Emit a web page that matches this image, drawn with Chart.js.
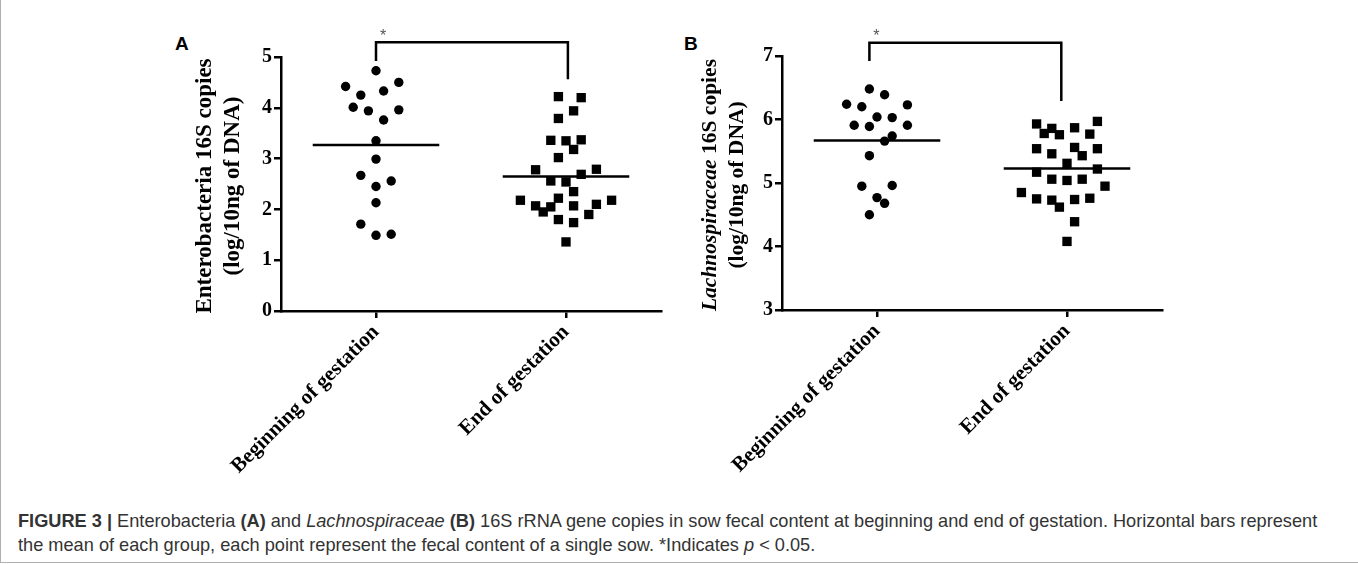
<!DOCTYPE html>
<html lang="en">
<head>
<meta charset="UTF-8">
<title>Figure 3</title>
<style>
  html, body { margin: 0; padding: 0; background: #fff; }
  #page { position: relative; width: 1358px; height: 564px; overflow: hidden; }
  #frame { position: absolute; left: 0; top: 0; width: 1357px; height: 562px;
           border-left: 1px solid #b0b0b0; border-bottom: 1px solid #b0b0b0; }
  canvas { position: absolute; }
  .letter { position: absolute; font: bold 19px "Liberation Sans", Arial, sans-serif; color: #000; }
  #caption { position: absolute; left: 18px; top: 509px; white-space: nowrap;
             font-family: "Liberation Sans", Arial, sans-serif; font-size: 15px; line-height: 24px; color: #333; }
</style>
</head>
<body>
<div id="page">
  <div id="frame"></div>
  <div class="letter" style="left:175px; top:33px;">A</div>
  <div class="letter" style="left:684px; top:33px;">B</div>
  <canvas id="chartA" width="520" height="500" style="left:160px; top:0px;"></canvas>
  <canvas id="chartB" width="530" height="500" style="left:660px; top:-1px;"></canvas>
  <div id="caption"><span id="line1"><b>FIGURE 3 |</b> Enterobacteria <b>(A)</b> and <i>Lachnospiraceae</i> <b>(B)</b> 16S rRNA gene copies in sow fecal content at beginning and end of gestation. Horizontal bars represent</span><br>the mean of each group, each point represent the fecal content of a single sow. *Indicates <i>p</i> &lt; 0.05.</div>
</div>

<script src="https://cdn.jsdelivr.net/npm/chart.js@4.4.0/dist/chart.umd.min.js"></script>
<script>
// groups on the x axis
const groups = ['Beginning of gestation', 'End of gestation'];

// A - Enterobacteria 16S copies (log/10ng of DNA)
const entBegin     = [4.73, 4.50, 4.42, 4.33, 4.25, 4.01, 3.96, 3.94, 3.76, 3.35, 2.99, 2.67, 2.56, 2.45, 2.13, 1.71, 1.51, 1.49];
const entBeginCols = [0, 3, -4, 1, -2, -3, 3, -1, 1, 0, 0, -2, 2, 0, 0, -2, 2, 0];
const entEnd       = [4.22, 4.20, 3.94, 3.79, 3.36, 3.35, 3.37, 3.18, 3.02, 2.78, 2.79, 2.69, 2.56, 2.54, 2.35,
                      2.18, 2.18, 2.22, 2.07, 2.05, 1.95, 2.07, 2.10, 1.90, 1.80, 1.74, 1.36];
const entEndCols   = [-1, 2, 1, -1, -2, 0, 2, 1, -1, -4, 4, 2, -2, 0, 1, -6, 6, -1, -4, -2, -3, 1, 4, 3, -1, 1, 0];
const entMeans     = [3.27, 2.65];
const entTicks     = [0, 1, 2, 3, 4, 5];

// B - Lachnospiraceae 16S copies (log/10ng of DNA)
const lachBegin     = [6.48, 6.39, 6.24, 6.20, 6.23, 6.04, 6.03, 5.91, 5.89, 5.91, 5.74, 5.66, 5.43, 4.95, 4.96, 4.77, 4.68, 4.50];
const lachBeginCols = [-1, 1, -4, -2, 4, 0, 2, -3, -1, 4, 2, 1, -1, -2, 2, 0, 1, -1];
const lachEnd       = [5.93, 5.86, 5.78, 5.76, 5.87, 5.97, 5.77, 5.54, 5.46, 5.56, 5.43, 5.54, 5.31, 5.22,
                       5.17, 5.06, 5.04, 5.06, 4.95, 4.85, 4.75, 4.73, 4.62, 4.74, 4.76, 4.39, 4.08];
const lachEndCols   = [-4, -2, -3, -1, 1, 4, 3, -4, -2, 1, 2, 4, 0, 4, -4, -2, 0, 2, 5, -6, -4, -2, -1, 1, 3, 1, 0];
const lachMeans     = [5.67, 5.23];
const lachTicks     = [3, 4, 5, 6, 7];

const STEP = 0.04;      // spacing of the scatter columns, in group units
const HALF_BAR = 0.333; // half length of the mean bar

function cloud(vals, cols, g) {
  return vals.map((v, i) => ({ x: g + cols[i] * STEP, y: v }));
}

const SERIF = '"Liberation Serif", "Times New Roman", serif';

// rotated y title, drawn from chart area, supports italic pieces
function yTitle(lines, off1, off2, size) {
  return {
    id: 'yTitle',
    afterDraw(chart) {
      const ctx = chart.ctx, a = chart.chartArea;
      const cy = (a.top + a.bottom) / 2 + 2;
      [off1, off2].forEach((off, li) => {
        const parts = lines[li];
        ctx.save();
        ctx.translate(a.left - off, cy);
        ctx.rotate(-Math.PI / 2);
        ctx.fillStyle = '#000';
        ctx.textBaseline = 'middle';
        ctx.textAlign = 'left';
        const fonts = parts.map(p => (p.italic ? 'italic ' : '') + 'bold ' + size + 'px ' + SERIF);
        let total = 0;
        parts.forEach((p, i) => { ctx.font = fonts[i]; total += ctx.measureText(p.text).width; });
        let x = -total / 2;
        parts.forEach((p, i) => { ctx.font = fonts[i]; ctx.fillText(p.text, x, 0); x += ctx.measureText(p.text).width; });
        ctx.restore();
      });
    }
  };
}

const starPlugin = {
  id: 'star',
  afterDraw(chart) {
    const br = chart.data.datasets[4].data;
    const ctx = chart.ctx;
    const x = chart.scales.x.getPixelForValue(br[1].x) + 7;
    const y = chart.scales.y.getPixelForValue(br[1].y) - 6;
    ctx.save();
    ctx.fillStyle = '#555';
    ctx.font = '16px "Liberation Sans", sans-serif';
    ctx.textAlign = 'center';
    ctx.textBaseline = 'middle';
    ctx.fillText('*', x, y);
    ctx.restore();
  }
};

function makePanel(id, o) {
  const meanBar = (g, m) => ({
    type: 'line', data: [{ x: g - HALF_BAR, y: m }, { x: g + HALF_BAR, y: m }],
    borderColor: '#000', borderWidth: 2.5, pointRadius: 0
  });
  const datasets = [
    { data: cloud(o.begin, o.beginCols, 1), pointStyle: 'circle', pointRadius: 4.7,
      backgroundColor: '#000', borderWidth: 0 },
    { data: cloud(o.end, o.endCols, 2), pointStyle: 'rect', pointRadius: 6.6,
      backgroundColor: '#000', borderWidth: 0 },
    meanBar(1, o.means[0]),
    meanBar(2, o.means[1]),
    { type: 'line', data: o.bracket, borderColor: '#000', borderWidth: 2.5, pointRadius: 0, clip: false }
  ];

  return new Chart(document.getElementById(id), {
    type: 'scatter',
    data: { datasets },
    options: {
      responsive: false,
      animation: false,
      layout: { padding: { top: 57, right: o.padRight, left: 0, bottom: 0 } },
      plugins: { legend: { display: false }, tooltip: { enabled: false } },
      scales: {
        x: {
          type: 'linear', min: 0.5, max: 2.5,
          afterBuildTicks: s => { s.ticks = [{ value: 1 }, { value: 2 }]; },
          afterFit: s => { s.height = 189; },
          ticks: { callback: (v, i) => groups[i], minRotation: 45, maxRotation: 45, autoSkip: false,
                   color: '#000', font: { family: SERIF, weight: 'bold', size: 21 }, padding: 2 },
          grid: { drawOnChartArea: false, tickLength: 7, color: '#000', lineWidth: 2.5 },
          border: { color: '#000', width: 2.5 }
        },
        y: {
          min: o.ticks[0], max: o.ticks[o.ticks.length - 1],
          afterBuildTicks: s => { s.ticks = o.ticks.map(v => ({ value: v })); },
          afterFit: s => { s.width = o.yWidth; },
          ticks: { color: '#000', font: { family: SERIF, weight: 'bold', size: 20 }, padding: 2 },
          grid: { drawOnChartArea: false, tickLength: 7, color: '#000', lineWidth: 2.5 },
          border: { color: '#000', width: 2.5 }
        }
      }
    },
    plugins: [yTitle(o.title, o.t1, o.t2, o.titleSize), starPlugin]
  });
}

makePanel('chartA', {
  begin: entBegin, beginCols: entBeginCols, end: entEnd, endCols: entEndCols, means: entMeans,
  ticks: entTicks, yWidth: 121, padRight: 19,
  bracket: [{ x: 1, y: 4.92 }, { x: 1, y: 5.29 }, { x: 2.01, y: 5.29 }, { x: 2.01, y: 4.56 }],
  title: [[{ text: 'Enterobacteria 16S copies' }], [{ text: '(log/10ng of DNA)' }]],
  t1: 76, t2: 48, titleSize: 23
});

makePanel('chartB', {
  begin: lachBegin, beginCols: lachBeginCols, end: lachEnd, endCols: lachEndCols, means: lachMeans,
  ticks: lachTicks, yWidth: 122, padRight: 28,
  bracket: [{ x: 0.96, y: 6.92 }, { x: 0.96, y: 7.21 }, { x: 1.97, y: 7.21 }, { x: 1.97, y: 6.29 }],
  title: [[{ text: 'Lachnospiraceae', italic: true }, { text: ' 16S copies' }], [{ text: '(log/10ng of DNA)' }]],
  t1: 72, t2: 45, titleSize: 21.5
});

// fit the first caption line to the width it has in the figure
const line1 = document.getElementById('line1');
const cap = document.getElementById('caption');
const w = line1.getBoundingClientRect().width;
cap.style.fontSize = (15 * 1300 / w).toFixed(2) + 'px';
</script>
</body>
</html>
